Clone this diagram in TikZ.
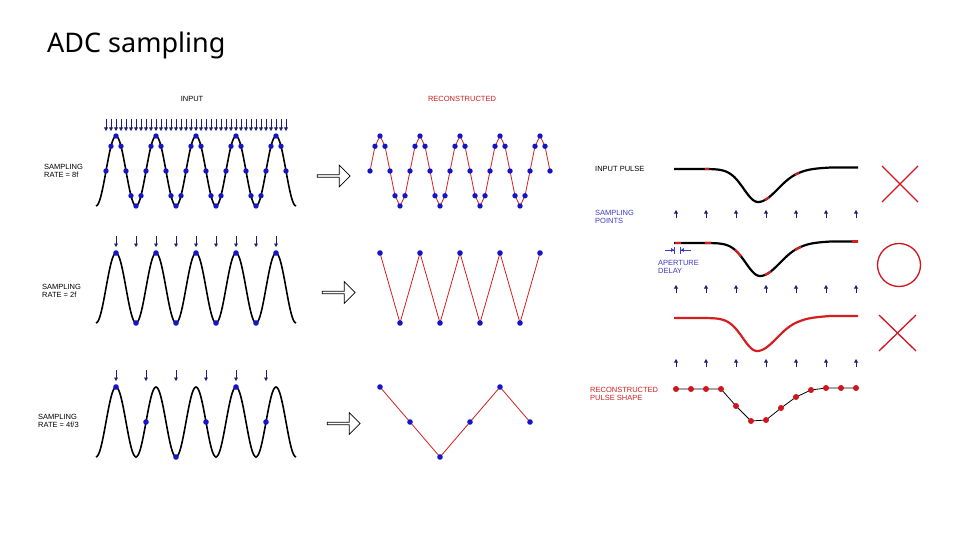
\documentclass[tikz,border=0pt]{standalone}
\usepackage{fontspec}
\setmainfont{Liberation Sans}
\newfontfamily\titlefont{Noto Sans}
\usepackage{xcolor}
\usepackage{tikz}
\usetikzlibrary{arrows.meta,positioning,shapes.arrows}

\definecolor{dotblue}{RGB}{20,20,200}
\definecolor{arrblue}{RGB}{30,30,120}
\definecolor{linered}{RGB}{215,30,30}
\definecolor{markred}{RGB}{210,20,30}
\definecolor{txtblue}{RGB}{60,60,200}

\begin{document}
\begin{tikzpicture}[
  x=1pt, y=-1pt,
  font=\fontsize{7.5}{8.5}\selectfont,
  lbl/.style={align=left, inner sep=0pt, anchor=west},
  wave/.style={line width=1.6pt, black},
  recon/.style={line width=0.8pt, linered},
  smp/.style={fill=dotblue},
  dn/.style={-{Triangle[length=3.5pt,width=3.8pt]}, arrblue, line width=0.7pt},
  up/.style={-{Triangle[length=3.5pt,width=3.8pt]}, arrblue, line width=0.8pt},
  hollow/.style={draw, thick, fill=white, single arrow, single arrow head extend=3pt,
    minimum height=33pt, minimum width=22pt, inner sep=0pt, single arrow tip angle=90},
  verdict/.style={markred, line width=1.3pt},
  declare function={pls(\t)=33*exp(-(((\t-758)/(\t<758?20:28))^2));}
]
  \fill[white] (0,0) rectangle (960,540);
  \useasboundingbox (0,0) rectangle (960,540);

  \node[anchor=west, inner sep=0pt, font=\titlefont\fontsize{27}{32}\selectfont] (title) at (47,45) {ADC sampling};

  % left: input waves
  \node (input) at (192,99) {INPUT};
  \node[text=linered] (recontitle) at (462,99) {RECONSTRUCTED};

  % rate 8f
  \node[lbl] (rate8) at (44,171) {SAMPLING\\RATE = 8f};
  \foreach \k in {-2,...,34}
    \draw[dn] ({116+5*\k},119) -- ({116+5*\k},131);
  \draw[wave] plot[domain=96:296, samples=161, smooth] (\x,{171-35*cos(9*(\x-116))});
  \foreach \k in {-2,...,34}
    \fill[smp] ({116+5*\k},{171-35*cos(45*\k)}) circle (2.7);
  \node[hollow] (go8) at (333,176) {};
  \draw[recon] plot[domain=-2:34, samples=37] ({380+5*\x},{171-35*cos(45*\x)});
  \foreach \k in {-2,...,34}
    \fill[smp] ({380+5*\k},{171-35*cos(45*\k)}) circle (2.7);

  % rate 2f
  \node[lbl] (rate2) at (42,291) {SAMPLING\\RATE = 2f};
  \foreach \k in {0,...,8}
    \draw[dn] ({116+20*\k},236) -- ({116+20*\k},247);
  \draw[wave] plot[domain=96:296, samples=161, smooth] (\x,{288-35*cos(9*(\x-116))});
  \foreach \k in {0,...,8}
    \fill[smp] ({116+20*\k},{288-35*cos(180*\k)}) circle (2.8);
  \node[hollow] (go2) at (338,292.5) {};
  \draw[recon] plot[domain=0:8, samples=9] ({380+20*\x},{288-35*cos(180*\x)});
  \foreach \k in {0,...,8}
    \fill[smp] ({380+20*\k},{288-35*cos(180*\k)}) circle (2.8);

  % rate 4f/3
  \node[lbl] (rate43) at (38,421) {SAMPLING\\RATE = 4f/3};
  \foreach \k in {0,...,5}
    \draw[dn] ({116+30*\k},370) -- ({116+30*\k},381);
  \draw[wave] plot[domain=96:296, samples=161, smooth] (\x,{422-35*cos(9*(\x-116))});
  \foreach \k in {0,...,5}
    \fill[smp] ({116+30*\k},{422-35*cos(270*\k)}) circle (2.8);
  \node[hollow] (go43) at (343,423.5) {};
  \draw[recon] plot[domain=0:5, samples=6] ({380+30*\x},{422-35*cos(270*\x)});
  \foreach \k in {0,...,5}
    \fill[smp] ({380+30*\k},{422-35*cos(270*\k)}) circle (2.8);

  % right: pulses
  \node[lbl] (inpulse) at (595,169) {INPUT PULSE};
  \draw[wave, line width=2.2pt] plot[domain=674:858, samples=120, smooth] (\x,{169+pls(\x)-1.5*(\x>800)*min(1,(\x-800)/30)});
  \foreach \s in {705,765,795}
    \draw[linered, line width=2.2pt] plot[domain=\s:\s+4, samples=3] (\x,{169+pls(\x)});

  \node[lbl, text=txtblue] (smppts) at (595,217) {SAMPLING\\POINTS};
  \foreach \k in {0,...,6} {
    \draw[up] ({676+30*\k},218) -- ({676+30*\k},210);
    \draw[up] ({676+30*\k},293) -- ({676+30*\k},285);
    \draw[up] ({676+30*\k},367) -- ({676+30*\k},359);
  }

  \draw[wave, line width=2.2pt] plot[domain=674:858, samples=120, smooth] (\x,{243+pls(\x-2)-1.5*(\x>800)*min(1,(\x-800)/30)});
  \foreach \s in {675,705,735,765,795,852}
    \draw[linered, line width=2.2pt] plot[domain=\s:\s+6, samples=3] (\x,{243+pls(\x-2)-1.5*(\x>800)*min(1,(\x-800)/30)});
  \draw[-{Triangle[length=3pt,width=3.5pt]Bar[width=7pt]}, txtblue, line width=0.8pt] (665,250) -- (675,250);
  \draw[-{Triangle[length=3pt,width=3.5pt]Bar[width=7pt]}, txtblue, line width=0.8pt] (691,250) -- (680,250);
  \node[lbl, text=txtblue] (aperture) at (658,267) {APERTURE\\DELAY};

  \draw[linered, line width=2.2pt] plot[domain=674:858, samples=120, smooth] (\x,{318+pls(\x+1)-2*(\x>800)*min(1,(\x-800)/30)});

  \node[lbl, text=linered] (recpulse) at (590,394) {RECONSTRUCTED\\PULSE SHAPE};
  \draw[black, line width=0.8pt] (676,389) -- (691,389) -- (706,389) -- (721,389) -- (736,406) -- (751,421)
    -- (766,420) -- (781,408) -- (796,397) -- (811,390) -- (826,388) -- (841,388) -- (856,388);
  \foreach \px/\py in {676/389,691/389,706/389,721/389,736/406,751/421,766/420,781/408,796/397,811/390,826/388,841/388,856/388}
    \fill[markred] (\px,\py) circle (3);

  % verdicts
  \draw[verdict] (882,166) -- (918,202) (882,202) -- (918,166);
  \draw[verdict] (899,265) circle (21.5);
  \draw[verdict] (879,315) -- (916,351) (879,351) -- (916,315);
\end{tikzpicture}
\end{document}
